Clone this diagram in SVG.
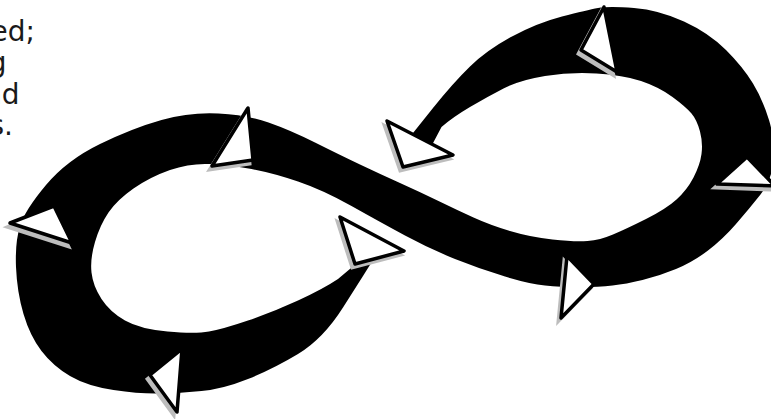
<svg xmlns="http://www.w3.org/2000/svg" width="771" height="419" viewBox="0 0 771 419">
<style>
.txt{font-family:"DejaVu Sans","Liberation Sans",sans-serif;font-size:28px;fill:#1a1a1a}
.band{fill:#000}
.tri{fill:#fff;stroke:#000;stroke-width:3.5;stroke-linejoin:round}
.shadow{fill:#bdbdbd;stroke:#bdbdbd;stroke-width:3}
</style>
<rect width="771" height="419" fill="#fff"/>
<g id="caption">
<text class="txt" x="35" y="40.5" text-anchor="end">ed;</text>
<text class="txt" x="6.5" y="72" text-anchor="end">g</text>
<text class="txt" x="19.5" y="103.5" text-anchor="end">nd</text>
<text class="txt" x="13" y="135" text-anchor="end">s.</text>
</g>
<g id="loop">
<path class="band" d="M 373 260 L 363 276 L 343 307.5 Q 323 339 298 354 Q 273 369 248 379 Q 223 389 201.5 391 Q 180 393 160 393.5 Q 140 394 113.5 390 Q 87 386 70 376 Q 53 366 41.5 351 Q 30 336 23.5 314 Q 17 292 16 267 Q 15 242 20 226 Q 25 210 46 185 Q 67 160 100 144 Q 133 128 161.5 120 Q 190 112 218.5 113.5 Q 247 115 268.5 122.5 Q 290 130 315 142.5 Q 340 155 360 164.5 Q 380 174 400 183 Q 420 192 438.5 201 Q 457 210 473.5 217.5 Q 490 225 510 231 Q 530 237 552.5 239.5 Q 575 242 587.5 241 Q 600 240 613 234.5 Q 626 229 646 219 Q 666 209 676.5 199.5 Q 687 190 693.5 177.5 Q 700 165 701.5 154 Q 703 143 700 131.5 Q 697 120 691.5 113.5 Q 686 107 672.5 97 Q 659 87 641 81 Q 623 75 596.5 73.5 Q 570 72 545 76 Q 520 80 503.5 88.5 Q 487 97 470 107 Q 453 117 441.5 127 L 432 145 L 412 134 L 413 133 L 433 108 Q 453 83 470 66.5 Q 487 50 512 36.5 Q 537 23 562 16.5 Q 587 10 598 8 Q 609 6 634 8 Q 659 10 684 21.5 Q 709 33 726 50 Q 743 67 753 83.5 Q 763 100 769 120 Q 775 140 773.5 160 Q 772 180 760.5 194.5 Q 749 209 736 224 Q 723 239 708 250.5 Q 693 262 676 269 Q 659 276 642.5 280 Q 626 284 612.5 285.5 Q 599 287 579.5 287 Q 560 287 545 285.5 Q 530 284 505 276.5 Q 480 269 455 259 Q 430 249 405 235.5 Q 380 222 351.5 206 Q 323 190 298 181.5 Q 273 173 251.5 169 Q 230 165 210 164 Q 190 163 170 170 Q 150 177 133.5 188.5 Q 117 200 108.5 212.5 Q 100 225 95 242 Q 90 259 91.5 272.5 Q 93 286 101.5 299 Q 110 312 125 320.5 Q 140 329 167.5 331.5 Q 195 334 209 331.5 Q 223 329 248 320.5 Q 273 312 298 300.5 Q 323 289 338 279 L 357 263 Z"/>
</g>
<g id="arrowheads">
<g id="arrow1"><polygon class="shadow" points="245,112 250,164 209,170"/><polygon class="tri" points="248,108 253,160 212,166"/></g>
<g id="arrow2"><polygon class="shadow" points="7,227 51,210 69,247"/><polygon class="tri" points="10,223 54,206 72,243"/></g>
<g id="arrow3"><polygon class="shadow" points="179,353 147,379 174,416"/><polygon class="tri" points="182,349 150,375 177,412"/></g>
<g id="arrow4"><polygon class="shadow" points="337,221 401,255 352,268"/><polygon class="tri" points="340,217 404,251 355,264"/></g>
<g id="arrow5"><polygon class="shadow" points="384,125 450,159 400,171"/><polygon class="tri" points="387,121 453,155 403,167"/></g>
<g id="arrow6"><polygon class="shadow" points="601,11 578,54 614,76"/><polygon class="tri" points="604,7 581,50 617,72"/></g>
<g id="arrow7"><polygon class="shadow" points="744,161 714,188 772,190"/><polygon class="tri" points="747,157 717,184 775,186"/></g>
<g id="arrow8"><polygon class="shadow" points="564,260 591,288 558,322"/><polygon class="tri" points="567,256 594,284 561,318"/></g>
</g>
</svg>
